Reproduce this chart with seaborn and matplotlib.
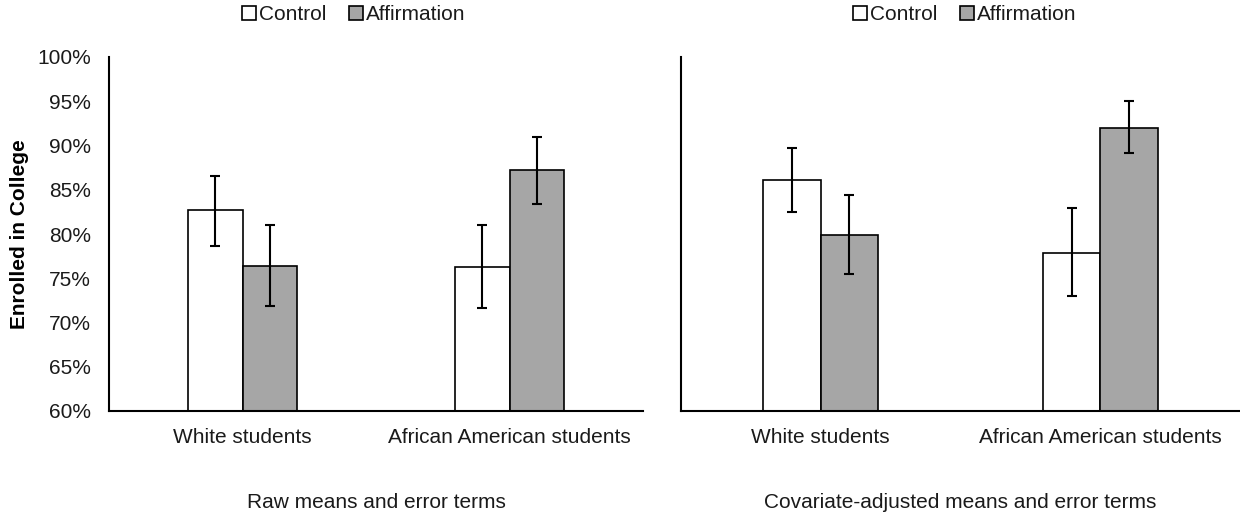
import pandas as pd
import matplotlib
matplotlib.use("Agg")
import matplotlib.pyplot as plt
from matplotlib.patches import Patch
from matplotlib.ticker import PercentFormatter, MultipleLocator
import seaborn as sns

# values (percent enrolled)
groups = ["White students", "African American students"]
conditions = ["Control", "Affirmation"]

raw_control = [82.7, 76.3]
raw_control_lo = [78.6, 71.6]
raw_control_hi = [86.6, 81.0]
raw_affirm = [76.4, 87.2]
raw_affirm_lo = [71.9, 83.4]
raw_affirm_hi = [81.0, 91.0]

adj_control = [86.1, 77.9]
adj_control_lo = [82.5, 73.0]
adj_control_hi = [89.7, 82.9]
adj_affirm = [79.9, 92.0]
adj_affirm_lo = [75.5, 89.2]
adj_affirm_hi = [84.4, 95.0]

panel_titles = ["Raw means and error terms",
                "Covariate-adjusted means and error terms"]


def make_df(ctrl, ctrl_lo, ctrl_hi, aff, aff_lo, aff_hi):
    rows = []
    for i, g in enumerate(groups):
        rows.append((g, "Control", ctrl[i], ctrl_lo[i], ctrl_hi[i]))
        rows.append((g, "Affirmation", aff[i], aff_lo[i], aff_hi[i]))
    return pd.DataFrame(rows, columns=["group", "condition", "value", "lo", "hi"])


panels = [
    make_df(raw_control, raw_control_lo, raw_control_hi,
            raw_affirm, raw_affirm_lo, raw_affirm_hi),
    make_df(adj_control, adj_control_lo, adj_control_hi,
            adj_affirm, adj_affirm_lo, adj_affirm_hi),
]

sns.set_style("white")
plt.rcParams["font.family"] = ["Liberation Sans", "DejaVu Sans"]
FS = 15
GRAY = "#A6A6A6"
TXT = "#1a1a1a"
palette = {"Control": "white", "Affirmation": GRAY}

W, H = 1240, 518
fig = plt.figure(figsize=(W / 100, H / 100), dpi=100)

axes_px = [(109, 643), (681, 1240)]
legend_cx = [354, 965]
y_top, y_bot = 57, 411

for k, df in enumerate(panels):
    x0, x1 = axes_px[k]
    ax = fig.add_axes([x0 / W, 1 - y_bot / H, (x1 - x0) / W, (y_bot - y_top) / H])
    sns.barplot(data=df, x="group", y="value", hue="condition",
                order=groups, hue_order=conditions, palette=palette,
                edgecolor="black", linewidth=1.2, width=0.41, gap=0,
                saturation=1, errorbar=None, legend=False, ax=ax)

    for cont, cond in zip(ax.containers, conditions):
        sub = df[df["condition"] == cond].set_index("group").loc[groups]
        for bar, (_, r) in zip(cont, sub.iterrows()):
            xc = bar.get_x() + bar.get_width() / 2
            ax.errorbar(xc, r["value"],
                        yerr=[[r["value"] - r["lo"]], [r["hi"] - r["value"]]],
                        fmt="none", ecolor="black", elinewidth=1.5,
                        capsize=3.3, capthick=1.5, zorder=5)

    ax.set_ylim(60, 100)
    ax.set_xlim(-0.5, 1.5)
    ax.yaxis.set_major_locator(MultipleLocator(5))
    ax.yaxis.set_major_formatter(PercentFormatter(xmax=100, decimals=0))
    ax.set_xlabel("")
    ax.set_ylabel("")
    ax.tick_params(axis="both", length=0, labelsize=FS, colors=TXT)
    ax.tick_params(axis="x", pad=12)
    ax.tick_params(axis="y", pad=13)
    for side in ["top", "right"]:
        ax.spines[side].set_visible(False)
    for side in ["left", "bottom"]:
        ax.spines[side].set_color("black")
        ax.spines[side].set_linewidth(1.5)
    ax.set_facecolor("none")

    if k == 0:
        ax.set_ylabel("Enrolled in College", fontsize=FS, fontweight="bold",
                      color="black")
        ax.yaxis.set_label_coords((29 - x0) / (x1 - x0), 0.5)
    else:
        ax.set_yticklabels([])

    fig.text(((x0 + x1) / 2) / W, 1 - 503 / H, panel_titles[k],
             ha="center", va="center", fontsize=FS, color=TXT)

    handles = [Patch(facecolor=palette[c], edgecolor="black", linewidth=1.2,
                     label=c) for c in conditions]
    fig.legend(handles=handles, loc="center", ncol=2, frameon=False,
               bbox_to_anchor=(legend_cx[k] / W, 1 - 15 / H),
               fontsize=FS, handlelength=0.65, handleheight=0.65,
               handletextpad=0.15, columnspacing=1.1, borderpad=0,
               labelcolor=TXT)

fig.savefig("out.png", dpi=100)
